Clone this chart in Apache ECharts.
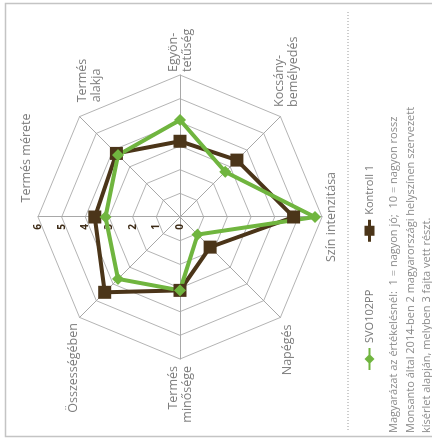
<!DOCTYPE html>
<html><head><meta charset="utf-8">
<script src="https://cdn.jsdelivr.net/npm/echarts@6/dist/echarts.min.js"></script>
<style>
html,body{margin:0;padding:0;width:432px;height:442px;overflow:hidden;background:#fff;}
#chart{position:absolute;left:0;top:0;width:442px;height:432px;transform-origin:0 0;transform:translate(0px,442px) rotate(-90deg);}
</style></head><body><div id="chart"></div>
<script>
// Categories in clockwise order starting at the top of the (unrotated) chart
const categories = ['Termés mérete', 'Termés alakja', 'Egyöntetűség', 'Kocsány-bemélyedés', 'Szín intenzitása', 'Napégés', 'Termés minősége', 'Összességében'];
const categoryLabels = ['Termés mérete', 'Termés\nalakja', 'Egyön-\ntetűség', 'Kocsány-\nbemélyedés', 'Szín intenzitása', 'Napégés', 'Termés\nminősége', 'Összességében'];
const svoValues = [3.15, 3.7, 4.1, 2.7, 5.7, 1.05, 3.1, 3.7];
const kontrollValues = [3.6, 3.8, 3.2, 3.4, 4.8, 1.8, 3.1, 4.5];
const seriesNames = ['SVO102PP', 'Kontroll 1'];
const scaleMin = 0;
const scaleMax = 6;
const footnoteLines = [
  'Magyarázat az értékelésnél:  1 = nagyon jó;  10 = nagyon rossz',
  'Monsanto által 2014-ben 2 magyarországi helyszínen szervezett',
  'kísérlet alapján, melyben 3 fajta vett részt.'
];

// ECharts lays indicators out counter-clockwise; map clockwise order to that.
const ecOrder = [0, 7, 6, 5, 4, 3, 2, 1];
const nameLayout = {
  0: { nameGap: 4, padding: [0, 0, 0, 118], pre: '' },
  1: { nameGap: 6, padding: [0, 0, 0, 10], pre: '\n\n' },
  2: { nameGap: 3, padding: 0, pre: '' },
  3: { nameGap: 8, padding: [0, 0, 0, 4], pre: '' },
  4: { nameGap: 2, padding: 0, pre: '' },
  5: { nameGap: 10, padding: 0, pre: '' },
  6: { nameGap: 7, padding: 0, pre: '' },
  7: { nameGap: 8, padding: 0, pre: '' }
};
const FONT = "'Open Sans', sans-serif";
const GREEN = '#70b53f';
const BROWN = '#4b3519';

const indicators = ecOrder.map(function (i) {
  const ind = {
    name: nameLayout[i].pre + categoryLabels[i],
    min: scaleMin,
    max: scaleMax,
    nameGap: nameLayout[i].nameGap,
    nameTextStyle: { padding: nameLayout[i].padding, color: '#7d7d7d', fontSize: 12.5, fontFamily: FONT, lineHeight: 14 }
  };
  if (i === 0) {
    ind.axisLabel = { show: true, color: '#3d2b16', fontSize: 10, fontWeight: 'bold', fontFamily: FONT, margin: 7 };
  }
  return ind;
});

const chart = echarts.init(document.getElementById('chart'), null, { renderer: 'canvas' });
chart.setOption({
  animation: false,
  backgroundColor: '#fff',
  legend: {
    data: [
      { name: seriesNames[0], icon: 'path://M0,5 L7,5 L11,1 L15,5 L22,5 L22,7 L15,7 L11,11 L7,7 L0,7 Z' },
      { name: seriesNames[1], icon: 'path://M0,4.5 L6,4.5 L6,1 L16,1 L16,4.5 L22,4.5 L22,7.5 L16,7.5 L16,11 L6,11 L6,7.5 L0,7.5 Z' }
    ],
    left: 67, top: 359,
    itemWidth: 22, itemHeight: 12, itemGap: 48,
    textStyle: { color: '#777', fontSize: 11, fontFamily: FONT }
  },
  title: {
    text: footnoteLines.join('\n'),
    left: 4, top: 381,
    textStyle: { color: '#8a8a8a', fontSize: 11, fontWeight: 'normal', fontFamily: FONT, lineHeight: 16.5 }
  },
  graphic: [
    { type: 'rect', silent: true, shape: { x: 5.5, y: 5.5, width: 433, height: 440 }, style: { fill: 'none', stroke: '#c4c4c4', lineWidth: 1.5 } },
    { type: 'line', silent: true, shape: { x1: 12, y1: 348, x2: 432, y2: 348 }, style: { stroke: '#9a9a9a', lineWidth: 1, lineDash: [1, 2] } }
  ],
  radar: {
    center: [225, 180],
    radius: 142,
    startAngle: 90,
    shape: 'polygon',
    splitNumber: 6,
    indicator: indicators,
    axisName: { color: '#7d7d7d', fontSize: 12.5, fontFamily: FONT },
    axisLabel: { show: false },
    axisLine: { lineStyle: { color: '#a8a8a8', width: 1 } },
    splitLine: { lineStyle: { color: '#b4b4b4', width: 1 } },
    splitArea: { show: false }
  },
  series: [{
    type: 'radar',
    data: [
      {
        name: seriesNames[1],
        value: ecOrder.map(function (i) { return kontrollValues[i]; }),
        symbol: 'rect', symbolSize: 13,
        lineStyle: { color: BROWN, width: 4 },
        itemStyle: { color: BROWN }
      },
      {
        name: seriesNames[0],
        value: ecOrder.map(function (i) { return svoValues[i]; }),
        symbol: 'diamond', symbolSize: 12,
        lineStyle: { color: GREEN, width: 4 },
        itemStyle: { color: GREEN }
      }
    ]
  }]
});
</script></body></html>
